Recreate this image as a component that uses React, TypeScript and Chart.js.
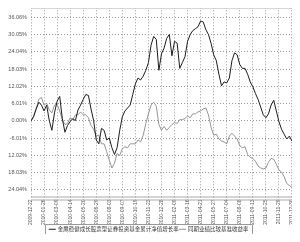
import React, { useEffect, useRef } from "react";
import { Chart, registerables } from "chart.js";

Chart.register(...registerables);

const xTickLabels = [
  "2009-12-22", "2010-01-26", "2010-03-09", "2010-04-14", "2010-05-20",
  "2010-06-29", "2010-08-03", "2010-09-07", "2010-10-19", "2010-11-23",
  "2010-12-28", "2011-02-09", "2011-03-16", "2011-04-21", "2011-05-27",
  "2011-07-04", "2011-08-08", "2011-09-13", "2011-10-25", "2011-11-29",
  "2011-12-30",
];

const yTickValues = [-24.04, -18.03, -12.02, -6.01, 0, 6.01, 12.02, 18.03, 24.04, 30.05, 36.06];

const fundValues = [
  0.0, 1.45, 4.15, 6.51, 5.5, 3.47, 5.5, 0.1, -3.27, 2.8,
  6.85, 8.53, 0.78, -3.95, -1.58, -0.24, 0.78, 0.1, 3.81, 5.5,
  7.52, 9.21, 8.87, 4.15, 0.1, -6.64, -7.99, -2.59, -3.27, -6.64,
  -5.97, -9.34, -11.7, -9.34, -3.27, 1.45, 3.47, 4.49, 5.5, 9.21,
  12.92, 14.94, 14.27, 15.62, 17.64, 20.34, 26.41, 29.44, 28.43, 17.64,
  23.37, 25.4, 28.77, 30.12, 22.7, 27.76, 27.08, 18.31, 20.34, 22.36,
  27.76, 30.12, 31.47, 32.14, 32.82, 34.84, 34.5, 31.8, 30.12, 27.08,
  23.04, 21.01, 16.29, 12.24, 13.59, 13.25, 14.94, 21.01, 23.71, 23.04,
  19.66, 18.31, 18.31, 16.29, 13.59, 11.91, 9.54, 7.52, 4.82, 2.12,
  1.11, 2.46, 5.5, 7.18, 3.47, -0.24, -2.93, -4.62, -6.31, -5.3,
  -6.98, -7.99,
];

const benchValues = [
  0.0, 1.79, 4.49, 7.52, 8.19, 5.5, 6.17, 3.81, 2.8, 5.5,
  5.83, 3.47, 0.44, -1.25, -0.91, 1.11, 0.44, 2.12, 2.12, 3.14,
  2.12, 2.12, 1.11, -1.58, -2.93, -5.3, -4.96, -7.99, -7.99, -10.69,
  -13.73, -16.42, -14.74, -11.37, -12.04, -9.68, -9.01, -9.34, -7.99, -7.99,
  -7.99, -6.64, -7.32, -4.96, -0.91, 2.46, 5.5, 6.51, 5.16, -1.25,
  -3.27, -1.92, -3.27, -2.26, -1.25, -0.57, -0.91, 0.44, 0.44, 0.78,
  1.79, 1.11, 2.46, 2.46, 3.14, 3.47, 4.15, 4.49, 2.12, -2.26,
  -4.96, -4.62, -6.31, -6.98, -7.32, -7.99, -5.3, -4.28, -5.3, -6.31,
  -8.67, -9.34, -9.01, -11.7, -12.72, -13.05, -14.06, -15.75, -16.42, -16.76,
  -16.42, -14.4, -13.05, -13.39, -15.08, -17.1, -17.77, -19.46, -21.82, -22.5,
  -23.17, -22.83,
];

const seriesNames = [
  "金鹰稳健成长股票型证券投资基金累计净值增长率",
  "同期业绩比较基准收益率",
];

const fundColor = "#1e1e1e";
const benchColor = "#959595";
const TICKS_PER_LABEL = 5;

export default function App() {
  const ref = useRef<HTMLCanvasElement>(null);

  useEffect(() => {
    if (!ref.current) return;
    const frame = {
      id: "frame",
      afterDraw(chart: any) {
        const { ctx, chartArea: a } = chart;
        ctx.save();
        ctx.lineWidth = 1;
        ctx.strokeStyle = "#777";
        ctx.beginPath();
        ctx.moveTo(a.left, a.top + 0.5);
        ctx.lineTo(a.right, a.top + 0.5);
        ctx.stroke();
        ctx.strokeStyle = "#aaa";
        [a.bottom - 0.5, a.bottom + 2.5].forEach((y: number) => {
          ctx.beginPath();
          ctx.moveTo(a.left, y);
          ctx.lineTo(a.right, y);
          ctx.stroke();
        });
        const lg = chart.legend;
        if (lg && lg.legendHitBoxes && lg.legendHitBoxes.length) {
          const boxes = lg.legendHitBoxes;
          const l = Math.round(boxes[0].left) - 3.5;
          const last = boxes[boxes.length - 1];
          const r = Math.round(last.left + last.width) + 3.5;
          const t = Math.round(boxes[0].top) - 2.5;
          ctx.strokeStyle = "#999";
          ctx.beginPath();
          ctx.moveTo(l, chart.height + 2);
          ctx.lineTo(l, t);
          ctx.lineTo(r, t);
          ctx.lineTo(r, chart.height + 2);
          ctx.stroke();
        }
        ctx.restore();
      },
    };
    const font = { family: "'Liberation Sans', 'DejaVu Sans', sans-serif", size: 5.5 };
    const chart = new Chart(ref.current, {
      type: "line",
      data: {
        datasets: [
          {
            label: seriesNames[0],
            data: fundValues.map((v, i) => ({ x: i, y: v })),
            borderColor: fundColor,
            backgroundColor: fundColor,
            borderWidth: 1,
            pointRadius: 0,
            tension: 0,
          },
          {
            label: seriesNames[1],
            data: benchValues.map((v, i) => ({ x: i, y: v })),
            borderColor: benchColor,
            backgroundColor: benchColor,
            borderWidth: 1,
            pointRadius: 0,
            tension: 0,
          },
        ],
      },
      options: {
        responsive: false,
        animation: false,
        layout: { padding: { top: 5, right: 2, bottom: 0, left: 0 } },
        plugins: {
          legend: {
            display: true,
            position: "bottom",
            labels: {
              usePointStyle: true,
              pointStyle: "line",
              boxWidth: 10,
              boxHeight: 5,
              padding: 1,
              color: "#333",
              font: { family: "'Noto Sans CJK SC', sans-serif", size: 5.5 },
            },
          },
          tooltip: { enabled: false },
        },
        scales: {
          x: {
            type: "linear",
            min: 0,
            max: 101.2,
            afterBuildTicks: (s: any) => {
              s.ticks = xTickLabels.map((_, k) => ({ value: k * TICKS_PER_LABEL }));
            },
            afterFit: (s: any) => {
              const lgH = s.chart && s.chart.legend && s.chart.legend.height ? s.chart.legend.height : 14;
              s.height = Math.max(28, s.chart.height - lgH - 202);
            },
            ticks: {
              autoSkip: false,
              minRotation: 90,
              maxRotation: 90,
              padding: 2,
              color: "#555",
              font: { family: font.family, size: 5 },
              callback: (_v: any, i: number) => xTickLabels[i],
            },
            grid: { color: "#999", drawTicks: false, lineWidth: 1 },
            border: { display: false, dash: [1, 2] },
          },
          y: {
            type: "linear",
            min: -26.7,
            max: 39.6,
            afterBuildTicks: (s: any) => {
              s.ticks = yTickValues.map((v) => ({ value: v }));
            },
            afterFit: (s: any) => {
              s.width = 31;
            },
            ticks: {
              padding: 4,
              color: "#555",
              font,
              callback: (v: any) => Number(v).toFixed(2) + "%",
            },
            grid: { color: "#999", drawTicks: false, lineWidth: 1 },
            border: { display: false, dash: [1, 2] },
          },
        },
      },
      plugins: [frame],
    });
    return () => chart.destroy();
  }, []);

  return (
    <div style={{ margin: -8, width: 300, height: 242, background: "#fff", overflow: "hidden" }}>
      <canvas ref={ref} width={300} height={242} style={{ display: "block" }} />
    </div>
  );
}
